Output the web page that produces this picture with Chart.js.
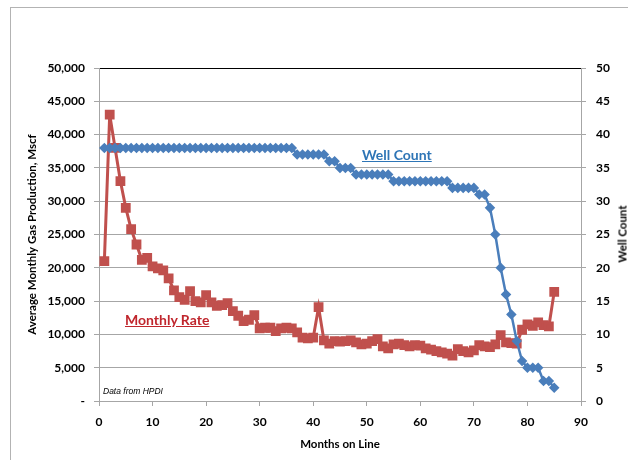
<!DOCTYPE html>
<html>
<head>
<meta charset="utf-8">
<script src="https://cdn.jsdelivr.net/npm/chart.js@4.4.1/dist/chart.umd.min.js"></script>
<style>
  html, body { margin: 0; padding: 0; background: #fff; }
  #wrap { position: relative; width: 628px; height: 460px; overflow: hidden; background: #fff; }
  #frame { position: absolute; left: 10px; top: 7px; width: 700px; height: 520px; border: 1px solid #b3b3b3; }
  #c { position: absolute; left: 0; top: 0; }
  .note { position: absolute; font-family: Lato, 'Liberation Sans', sans-serif; font-weight: bold; white-space: nowrap; }
  #wellLabel { left: 362px; top: 146px; font-size: 14px; color: #2e75b6; text-decoration: underline; }
  #rateLabel { left: 125px; top: 311px; font-size: 14px; color: #c0262d; text-decoration: underline; }
  #source { left: 103px; top: 386px; font-size: 8.5px; font-weight: normal; font-style: italic; font-family: 'Liberation Sans', sans-serif; color: #000; }
  #rightTitle { left: 622px; top: 234px; font-size: 11.5px; color: #000; transform: translate(-50%, -50%) rotate(-90deg); }
</style>
</head>
<body>
<div id="wrap">
  <div id="frame"></div>
  <canvas id="c" width="628" height="460"></canvas>
  <div class="note" id="wellLabel">Well Count</div>
  <div class="note" id="rateLabel">Monthly Rate</div>
  <div class="note" id="source">Data from HPDI</div>
  <div class="note" id="rightTitle">Well Count</div>
</div>
<script>
// month 1 .. 85
const firstMonth = 1;

// average monthly gas production, Mscf
const monthlyRate = [
  21000, 43000, 38000, 33000, 29000, 25800, 23500, 21200, 21500, 20200,
  19900, 19600, 18400, 16600, 15600, 15200, 16500, 15000, 14800, 15900,
  14800, 14300, 14400, 14700, 13500, 12800, 12000, 12200, 12900, 10900,
  11000, 11000, 10500, 10900, 11000, 10900, 10300, 9500, 9400, 9500,
  14100, 9100, 8600, 9000, 8900, 9000, 9100, 8800, 8500, 8600,
  9000, 9300, 8200, 7900, 8500, 8600, 8400, 8200, 8400, 8300,
  7900, 7700, 7500, 7300, 7100, 6800, 7800, 7500, 7300, 7600,
  8400, 8200, 8100, 8500, 9900, 8800, 8700, 8600, 10700, 11500,
  11300, 11800, 11400, 11200, 16400
];

// number of wells
const wellCount = [
  38, 38, 38, 38, 38, 38, 38, 38, 38, 38,
  38, 38, 38, 38, 38, 38, 38, 38, 38, 38,
  38, 38, 38, 38, 38, 38, 38, 38, 38, 38,
  38, 38, 38, 38, 38, 38, 37, 37, 37, 37,
  37, 37, 36, 36, 35, 35, 35, 34, 34, 34,
  34, 34, 34, 34, 33, 33, 33, 33, 33, 33,
  33, 33, 33, 33, 33, 32, 32, 32, 32, 32,
  31, 31, 29, 25, 20, 16, 13, 9, 6, 5,
  5, 5, 3, 3, 2
];

const gridGray = '#a6a6a6';
const tickFont = { family: 'Lato', size: 12, weight: 'bold' };
const titleFont = { family: 'Lato', size: 11.5, weight: 'bold' };

let rateData = monthlyRate.map((v, i) => ({ x: firstMonth + i, y: v }));
let wellData = wellCount.map((v, i) => ({ x: firstMonth + i, y: v }));

let chart = new Chart(document.getElementById('c'), {
  type: 'line',
  data: {
    datasets: [
      {
        label: 'Well Count',
        data: wellData,
        yAxisID: 'y2',
        borderColor: '#4a7ebb',
        backgroundColor: '#4a7ebb',
        borderWidth: 2.5,
        pointStyle: 'rectRot',
        pointRadius: 3.5,
        tension: 0,
        order: 1
      },
      {
        label: 'Monthly Rate',
        data: rateData,
        yAxisID: 'y',
        borderColor: '#c0504d',
        backgroundColor: '#c0504d',
        borderWidth: 3,
        pointStyle: 'rect',
        pointRadius: 4.8,
        tension: 0,
        order: 2
      }
    ]
  },
  options: {
    responsive: false,
    animation: false,
    devicePixelRatio: 1,
    layout: { padding: { top: 68, left: 0, right: 0, bottom: 0 } },
    plugins: {
      legend: { display: false },
      tooltip: { enabled: false }
    },
    scales: {
      x: {
        type: 'linear',
        min: 0,
        max: 90,
        afterFit: (scale) => { scale.height = 59; },
        ticks: { stepSize: 10, color: '#000', font: tickFont, padding: 9, maxRotation: 0 },
        grid: { drawOnChartArea: false, drawTicks: true, tickLength: 5, color: gridGray },
        border: { color: gridGray, width: 1 },
        title: {
          display: true,
          text: 'Months on Line',
          color: '#000',
          font: titleFont,
          padding: { top: 0, bottom: 9 }
        }
      },
      y: {
        position: 'left',
        min: 0,
        max: 50000,
        afterFit: (scale) => { scale.width = 99; },
        ticks: {
          stepSize: 5000,
          color: '#000',
          font: tickFont,
          padding: 9,
          callback: (v) => v === 0 ? '-' : v.toLocaleString('en-US')
        },
        grid: {
          tickLength: 5,
          color: (ctx) => ctx.tick && ctx.tick.value === 50000 ? '#000' : gridGray,
          tickColor: gridGray
        },
        border: { color: gridGray, width: 1 },
        title: {
          display: true,
          text: 'Average Monthly Gas Production, Mscf',
          color: '#000',
          font: titleFont,
          padding: { top: 25, bottom: 0 }
        }
      },
      y2: {
        position: 'right',
        min: 0,
        max: 50,
        afterFit: (scale) => { scale.width = 47; },
        ticks: { stepSize: 5, color: '#000', font: tickFont, padding: 10 },
        grid: { drawOnChartArea: false, drawTicks: true, tickLength: 5, color: gridGray },
        border: { color: gridGray, width: 1 }
      }
    }
  }
});
</script>
</body>
</html>
